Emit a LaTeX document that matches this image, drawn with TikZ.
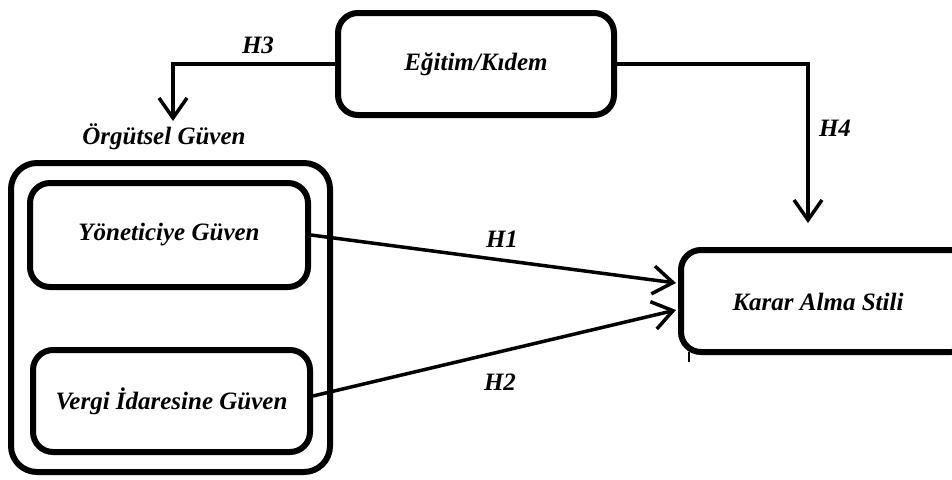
\documentclass[tikz,border=0pt]{standalone}
\usepackage{fontspec}
\setmainfont{Liberation Serif}
\usetikzlibrary{arrows.meta}
\begin{document}
\begin{tikzpicture}[x=1pt,y=-1pt,
  box/.style={draw, line width=6pt, rounded corners=20pt, inner sep=0pt},
  lbl/.style={font=\fontsize{25}{29}\selectfont\bfseries\itshape},
  conn/.style={line width=3.5pt, -{Straight Barb[length=20pt,width=28pt]}}]
\useasboundingbox (0,0) rectangle (952,479);
\clip (0,0) rectangle (952,479);
\node[box, minimum width=319pt, minimum height=309pt, rounded corners=26pt] (outer) at (170.5,317.5) {};
\node[box, minimum width=276pt, minimum height=102pt, lbl] (egitim) at (476,64) {Eğitim/Kıdem};
\node[box, minimum width=278pt, minimum height=104pt, lbl] (yon) at (169,235) {Yöneticiye Güven};
\node[box, minimum width=277pt, minimum height=102pt, lbl] (vergi) at (171.5,401) {Vergi İdaresine Güven};
\node[box, minimum width=290pt, minimum height=102pt] (karar) at (826,301) {};
\node[lbl] (kararText) at (818,302) {Karar Alma Stili};
\node[lbl] (org) at (164,137) {Örgütsel Güven};
\coordinate (h3end) at (173,121);
\coordinate (h4end) at (808,223);
\coordinate (k1) at (676,283);
\coordinate (k2) at (676,310);
\draw[conn] (egitim.west) -| (h3end);
\draw[conn] (egitim.east) -| (h4end);
\draw[conn] (yon.east) -- (k1);
\draw[conn] ([yshift=5pt]vergi.east) -- (k2);
\draw[line width=2.5pt] (689,352) -- (689,362);
\node[lbl] (h3) at (258,45) {H3};
\node[lbl] (h4) at (835,128) {H4};
\node[lbl] (h1) at (502,239) {H1};
\node[lbl] (h2) at (500,382) {H2};
\end{tikzpicture}
\end{document}
